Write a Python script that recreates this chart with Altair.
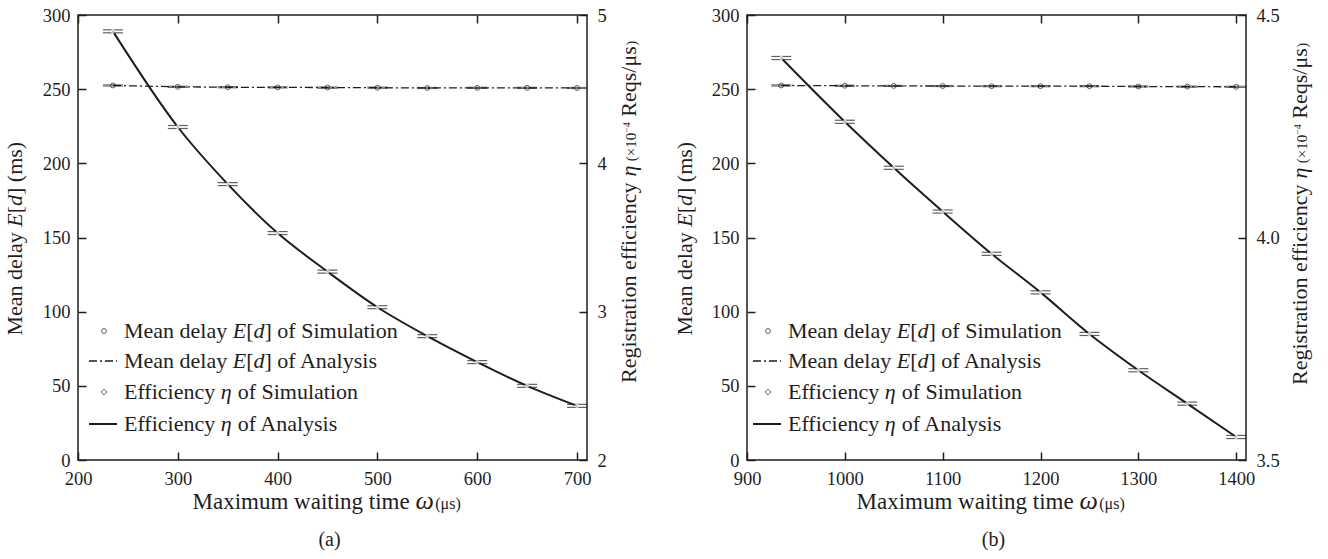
import altair as alt
import pandas as pd

FONT = "Liberation Serif"
INK = "#1e1e1e"

# ---------------- data: panel (a) ----------------
a_x = [235, 300, 350, 400, 450, 500, 550, 600, 650, 700]
a_delay_sim = [252.5, 251.6, 251.3, 251.2, 251.1, 251.0, 250.8, 250.9, 250.9, 250.8]
a_delay_ana = [252.5, 251.6, 251.3, 251.2, 251.1, 251.0, 250.8, 250.9, 250.9, 250.8]
a_delay_err = [0.4, 0.4, 0.4, 0.4, 0.4, 0.4, 0.4, 0.4, 0.4, 0.4]
a_eff_sim = [4.89, 4.245, 3.86, 3.53, 3.27, 3.03, 2.835, 2.66, 2.50, 2.365]
a_eff_ana = [4.89, 4.245, 3.86, 3.53, 3.27, 3.03, 2.835, 2.66, 2.50, 2.365]
a_eff_err = [0.01, 0.01, 0.01, 0.01, 0.01, 0.01, 0.01, 0.01, 0.01, 0.01]
a_xticks = [200, 300, 400, 500, 600, 700]
a_xdomain = [200, 710]
a_eff_domain = [2, 5]
a_eff_ticks = [2, 3, 4, 5]

# ---------------- data: panel (b) ----------------
b_x = [935, 1000, 1050, 1100, 1150, 1200, 1250, 1300, 1350, 1400]
b_delay_sim = [252.5, 252.3, 252.2, 252.1, 252.0, 252.0, 252.0, 251.8, 251.7, 251.6]
b_delay_ana = [252.5, 252.3, 252.2, 252.1, 252.0, 252.0, 252.0, 251.8, 251.7, 251.6]
b_delay_err = [0.4, 0.4, 0.4, 0.4, 0.4, 0.4, 0.4, 0.4, 0.4, 0.4]
b_eff_sim = [4.4033, 4.26, 4.1567, 4.0583, 3.9633, 3.8767, 3.7833, 3.7017, 3.6267, 3.5517]
b_eff_ana = [4.4033, 4.26, 4.1567, 4.0583, 3.9633, 3.8767, 3.7833, 3.7017, 3.6267, 3.5517]
b_eff_err = [0.0035] * 10
b_xticks = [900, 1000, 1100, 1200, 1300, 1400]
b_xdomain = [900, 1410]
b_eff_domain = [3.5, 4.5]
b_eff_ticks = [3.5, 4.0, 4.5]

delay_domain = [0, 300]
delay_ticks = [0, 50, 100, 150, 200, 250, 300]

# text pieces: (text, font size, italic, advance in 1/1000 em incl. spaces, raise px)
legend_rows = [
    [("Mean delay ", 22, False, 4943, 0), ("E", 22, True, 611, 0), ("[", 22, False, 333, 0),
     ("d", 22, True, 500, 0), ("]", 22, False, 333, 0), (" of Simulation", 22, False, 0, 0)],
    [("Mean delay ", 22, False, 4943, 0), ("E", 22, True, 611, 0), ("[", 22, False, 333, 0),
     ("d", 22, True, 500, 0), ("]", 22, False, 333, 0), (" of Analysis", 22, False, 0, 0)],
    [("Efficiency ", 22, False, 4395, 0), ("\u03b7", 22, True, 520, 0), (" of Simulation", 22, False, 0, 0)],
    [("Efficiency ", 22, False, 4395, 0), ("\u03b7", 22, True, 520, 0), (" of Analysis", 22, False, 0, 0)],
]
x_title = [("Maximum waiting time ", 23, False, 9695, 0), ("\u03c9", 26, True, 760, 0),
           ("(\u03bcs)", 16, False, 0, 0)]
left_title = [("Mean delay ", 22, False, 4943, 0), ("E", 22, True, 611, 0), ("[", 22, False, 333, 0),
              ("d", 22, True, 500, 0), ("]", 22, False, 333, 0), (" (ms)", 22, False, 0, 0)]
right_title = [("Registration efficiency ", 22, False, 9387, 0), ("\u03b7", 22, True, 520, 0),
               (" (\u00d710", 15, False, 2147, 0), ("\u22124", 10, False, 1064, 6),
               (" Reqs/\u03bcs", 22, False, 3480, 0), (")", 15, False, 0, 0)]

H = 445
TL = 8  # tick length
SPACE = 250  # advance of a space, 1/1000 em

common_axis = dict(
    offset=-TL, tickSize=TL, ticks=True, tickColor=INK, tickWidth=1.5,
    domain=False, grid=False, zindex=1, title=None,
    labelColor=INK, labelFontSize=18.5, labelFlush=False,
)

one = pd.DataFrame({"k": [0]})


def pieces(segs, x0, y0, vertical=False):
    out = []
    cum = 0.0
    for txt, fs, ital, adv, rz in segs:
        stripped = txt.lstrip(" ")
        lead = (len(txt) - len(stripped)) * SPACE * fs / 1000.0
        pos = cum + lead
        if vertical:
            x, y = x0 - rz, y0 - pos
            mk = dict(angle=270)
        else:
            x, y = x0 + pos, y0 - rz
            mk = dict()
        out.append(alt.Chart(one).mark_text(
            align="left", baseline="alphabetic", fontSize=fs, color=INK, font=FONT,
            fontStyle="italic" if ital else "normal", **mk).encode(
            x=alt.value(x), y=alt.value(y), text=alt.value(stripped.rstrip(" "))))
        cum += adv * fs / 1000.0
    return out


def panel(xs, dsim, dana, derr, esim, eana, eerr, xticks, xdomain,
          edomain, eticks, efmt, width, caption, ldx, lt_x, rt_x, rt_y):
    df = pd.DataFrame({
        "x": xs,
        "dsim": dsim, "dana": dana,
        "dlo": [d - e for d, e in zip(dsim, derr)],
        "dhi": [d + e for d, e in zip(dsim, derr)],
        "esim": esim, "eana": eana,
        "elo": [v - e for v, e in zip(esim, eerr)],
        "ehi": [v + e for v, e in zip(esim, eerr)],
    })

    xscale = alt.Scale(domain=xdomain, nice=False, zero=False)
    xaxis = alt.Axis(values=xticks, format="d", labelPadding=9, **common_axis)
    xaxis_top = alt.Axis(
        orient="top", values=xticks, labels=False, title=None,
        offset=-TL, tickSize=TL, ticks=True, tickColor=INK, tickWidth=1.5,
        domain=False, grid=False, zindex=1)
    lscale = alt.Scale(domain=delay_domain, nice=False, zero=False)
    laxis = alt.Axis(values=delay_ticks, format="d", labelPadding=8, **common_axis)
    rscale = alt.Scale(domain=edomain, nice=False, zero=False)
    raxis = alt.Axis(values=eticks, format=efmt, orient="right", labelPadding=10, **common_axis)

    def X(f):
        return alt.X(f, scale=xscale, axis=xaxis)

    def XT(f):
        return alt.X(f, scale=xscale, axis=xaxis_top)

    def LY(f):
        return alt.Y(f, scale=lscale, axis=laxis)

    def RY(f):
        return alt.Y(f, scale=rscale, axis=raxis)

    base = alt.Chart(df)

    delay_line = base.mark_line(color=INK, strokeWidth=1.3, strokeDash=[8, 3, 2, 3]).encode(
        x=X("x:Q"), y=LY("dana:Q"))
    delay_cap_lo = base.mark_tick(orient="horizontal", size=20, thickness=1, color=INK).encode(
        x=X("x:Q"), y=LY("dlo:Q"))
    delay_cap_hi = base.mark_tick(orient="horizontal", size=20, thickness=1, color=INK).encode(
        x=X("x:Q"), y=LY("dhi:Q"))
    delay_pts = base.mark_point(shape="circle", size=24, filled=False, color=INK, strokeWidth=1).encode(
        x=X("x:Q"), y=LY("dsim:Q"))

    # legend (annotation)
    lx_line0, lx_line1, lx_sym, lx_text = 11 + ldx, 39 + ldx, 26 + ldx, 46 + ldx
    base_y = [323, 353, 384, 416]
    sym_y = [b - 7 for b in base_y]
    leg = []
    leg.append(alt.Chart(one).mark_point(shape="circle", size=24, filled=False, color=INK, strokeWidth=1).encode(
        x=alt.value(lx_sym), y=alt.value(sym_y[0])))
    leg.append(alt.Chart(one).mark_rule(color=INK, strokeWidth=1.3, strokeDash=[8, 3, 2, 3]).encode(
        x=alt.value(lx_line0), x2=alt.value(lx_line1), y=alt.value(sym_y[1])))
    leg.append(alt.Chart(one).mark_point(shape="diamond", size=34, filled=False, color=INK, strokeWidth=1).encode(
        x=alt.value(lx_sym), y=alt.value(sym_y[2])))
    leg.append(alt.Chart(one).mark_rule(color=INK, strokeWidth=2).encode(
        x=alt.value(lx_line0), x2=alt.value(lx_line1), y=alt.value(sym_y[3])))
    for segs, yb in zip(legend_rows, base_y):
        leg += pieces(segs, lx_text, yb)

    # titles and caption as text pieces
    titles = []
    titles += pieces(x_title, width / 2 - 140, H + 49)
    titles += pieces(left_title, lt_x, H / 2 + 98, vertical=True)
    titles += pieces(right_title, width + rt_x, rt_y, vertical=True)
    titles.append(alt.Chart(one).mark_text(
        align="center", baseline="alphabetic", fontSize=20, color=INK, font=FONT).encode(
        x=alt.value(width / 2 - 3), y=alt.value(H + 86), text=alt.value(caption)))

    left = alt.layer(delay_line, delay_cap_lo, delay_cap_hi, delay_pts, *leg, *titles)

    eff_line = base.mark_line(color=INK, strokeWidth=2, interpolate="monotone").encode(
        x=XT("x:Q"), y=RY("eana:Q"))
    eff_bar = base.mark_rule(color=INK, strokeWidth=1).encode(
        x=XT("x:Q"), y=RY("elo:Q"), y2="ehi:Q")
    eff_cap_lo = base.mark_tick(orient="horizontal", size=20, thickness=1.2, color=INK).encode(
        x=XT("x:Q"), y=RY("elo:Q"))
    eff_cap_hi = base.mark_tick(orient="horizontal", size=20, thickness=1.2, color=INK).encode(
        x=XT("x:Q"), y=RY("ehi:Q"))
    eff_pts = base.mark_point(shape="diamond", size=34, filled=True, fill="white", color=INK,
                              strokeWidth=1).encode(
        x=XT("x:Q"), y=RY("esim:Q"))

    right = alt.layer(eff_line, eff_bar, eff_cap_lo, eff_cap_hi, eff_pts)

    return alt.layer(left, right).resolve_scale(y="independent").resolve_axis(
        x="independent", y="independent").properties(width=width, height=H)


pa = panel(a_x, a_delay_sim, a_delay_ana, a_delay_err, a_eff_sim, a_eff_ana, a_eff_err,
           a_xticks, a_xdomain, a_eff_domain, a_eff_ticks, "d", 509, "(a)", 0, -56, 49, 368)
pb = panel(b_x, b_delay_sim, b_delay_ana, b_delay_err, b_eff_sim, b_eff_ana, b_eff_err,
           b_xticks, b_xdomain, b_eff_domain, b_eff_ticks, ".1f", 499, "(b)", -5, -55, 61, 370)

chart = alt.hconcat(pa, pb, spacing=32).properties(
    padding={"left": 3, "top": 5, "right": 5, "bottom": 5}
).configure(font=FONT).configure_view(stroke=INK, strokeWidth=1.5)

chart.save("out.html", embed_options={"renderer": "svg", "actions": False})
